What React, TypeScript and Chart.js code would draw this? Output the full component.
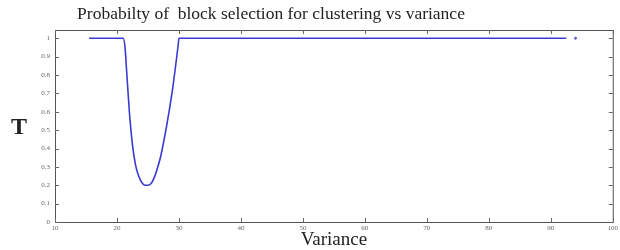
import React, { useEffect, useRef } from "react";
import { Chart, registerables } from "chart.js";
Chart.register(...registerables);

const variance = [15.5, 20, 21, 21.3, 21.6, 22, 22.5, 23, 23.5, 24, 24.5, 25, 25.5, 26, 26.5, 27, 27.5, 28, 28.5, 29, 29.5, 29.9, 30, 40, 60, 80, 92.5];
const probability = [1, 1, 1, 0.95, 0.8, 0.6, 0.42, 0.31, 0.25, 0.215, 0.2, 0.2, 0.21, 0.24, 0.29, 0.35, 0.43, 0.52, 0.62, 0.73, 0.86, 0.97, 1, 1, 1, 1, 1];
const strayPointX = [94];
const strayPointY = [1];
const xTicks = [10, 20, 30, 40, 50, 60, 70, 80, 90, 100];
const yTicks = [0, 0.1, 0.2, 0.3, 0.4, 0.5, 0.6, 0.7, 0.8, 0.9, 1];
const titleText = "Probabilty of  block selection for clustering vs variance";

const framePlugin = {
  id: "frame",
  afterDraw(chart: any) {
    const { ctx, chartArea: a, scales } = chart;
    ctx.save();
    ctx.strokeStyle = "#555";
    ctx.lineWidth = 1;
    ctx.strokeRect(a.left + 0.5, a.top + 0.5, a.right - a.left, a.bottom - a.top);
    ctx.strokeStyle = "#666";
    ctx.beginPath();
    for (const v of xTicks) {
      const x = Math.round(scales.x.getPixelForValue(v)) + 0.5;
      ctx.moveTo(x, a.bottom);
      ctx.lineTo(x, a.bottom - 4);
      ctx.moveTo(x, a.top);
      ctx.lineTo(x, a.top + 4);
    }
    for (const v of yTicks) {
      const y = Math.round(scales.y.getPixelForValue(v)) + 0.5;
      ctx.moveTo(a.left, y);
      ctx.lineTo(a.left + 4, y);
      ctx.moveTo(a.right, y);
      ctx.lineTo(a.right - 4, y);
    }
    ctx.stroke();
    ctx.fillStyle = "#222";
    ctx.textAlign = "center";
    ctx.textBaseline = "middle";
    ctx.font = "17.5px 'Liberation Serif', serif";
    ctx.fillText(titleText, 271, 14);
    ctx.font = "19px 'Liberation Serif', serif";
    ctx.fillText("Variance", (a.left + a.right) / 2, 240);
    ctx.font = "bold 24px 'Liberation Serif', serif";
    ctx.fillText("T", 19, 128);
    ctx.restore();
  },
};

export default function App() {
  const ref = useRef<HTMLCanvasElement>(null);
  useEffect(() => {
    document.body.style.margin = "0";
    const chart = new Chart(ref.current!, {
      type: "scatter",
      data: {
        datasets: [
          {
            data: variance.map((v, i) => ({ x: v, y: probability[i] })),
            showLine: true,
            borderColor: "#3a3ad0",
            borderWidth: 1.6,
            pointRadius: 0,
            cubicInterpolationMode: "monotone",
          },
          {
            data: strayPointX.map((v, i) => ({ x: v, y: strayPointY[i] })),
            pointRadius: 1,
            backgroundColor: "#5555cc",
            borderColor: "#5555cc",
          },
        ],
      },
      options: {
        animation: false,
        responsive: false,
        layout: { padding: { top: 30, right: 7, left: 0, bottom: 0 } },
        plugins: { legend: { display: false }, tooltip: { enabled: false } },
        scales: {
          x: {
            type: "linear",
            min: 10,
            max: 100,
            grid: { display: false, drawTicks: false, tickLength: 0 },
            border: { display: false },
            afterBuildTicks: (s: any) => { s.ticks = xTicks.map((v) => ({ value: v })); },
            afterFit: (s: any) => { s.height = 28; },
            ticks: { font: { size: 7, family: "'Liberation Serif', serif" }, color: "#666", padding: 2, maxRotation: 0 },
          },
          y: {
            type: "linear",
            min: 0,
            max: 1.045,
            grid: { display: false, drawTicks: false, tickLength: 0 },
            border: { display: false },
            afterBuildTicks: (s: any) => { s.ticks = yTicks.map((v) => ({ value: v })); },
            afterFit: (s: any) => { s.width = 55; },
            ticks: {
              font: { size: 7, family: "'Liberation Serif', serif" },
              color: "#666",
              padding: 5,
              callback: (v: any) => String(Math.round(Number(v) * 10) / 10),
            },
          },
        },
      },
      plugins: [framePlugin],
    });
    return () => chart.destroy();
  }, []);
  return <canvas ref={ref} width={620} height={250} style={{ display: "block" }} />;
}
